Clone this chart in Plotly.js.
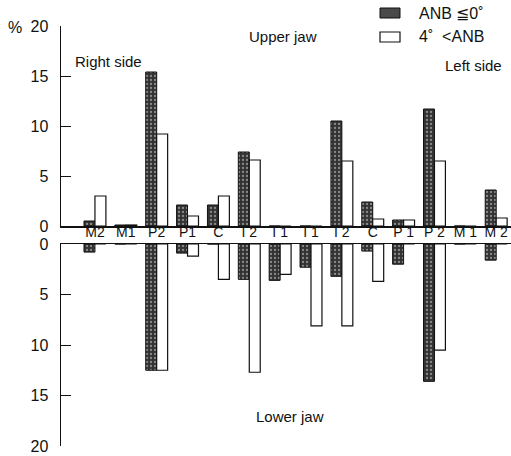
<!DOCTYPE html>
<html><head><meta charset="utf-8">
<script src="https://cdn.plot.ly/plotly-3.0.1.min.js"></script>
<style>html,body{margin:0;padding:0;background:#fff}</style>
</head><body><div id="chart" style="width:511px;height:456px"></div>
<script>
const categories = ['M2','M1','P2','P1','C','I 2','I 1','I 1','I 2','C','P 1','P 2','M 1','M 2'];
const seriesNames = ['ANB \u22660\u02da', '4\u02da  <ANB'];
const upperDark  = [0.5, 0.1, 15.4, 2.1, 2.1, 7.4, 0, 0, 10.5, 2.4, 0.6, 11.7, 0, 3.6];
const upperWhite = [3.0, 0.1, 9.2, 1.0, 3.0, 6.6, 0, 0, 6.5, 0.7, 0.6, 6.5, 0, 0.8];
const lowerDark  = [0.8, 0, 12.5, 0.9, 0, 3.5, 3.6, 2.3, 3.2, 0.7, 2.0, 13.6, 0, 1.6];
const lowerWhite = [0, 0, 12.5, 1.2, 3.5, 12.7, 3.0, 8.1, 8.1, 3.7, 0, 10.5, 0, 0];
const yTicks = [0, 5, 10, 15, 20];

const xs = categories.map((c, i) => i);
const darkMarker = {color: '#3a3a3a', line: {color: '#111', width: 1},
  pattern: {shape: '.', fgcolor: '#8a8a8a', bgcolor: '#333', size: 4, solidity: 0.25}};
const whiteMarker = {color: '#ffffff', line: {color: '#111', width: 1.2}};

const traces = [
  {type: 'bar', x: xs, y: upperDark, name: seriesNames[0], marker: darkMarker, xaxis: 'x', yaxis: 'y'},
  {type: 'bar', x: xs, y: upperWhite, name: seriesNames[1], marker: whiteMarker, xaxis: 'x', yaxis: 'y'},
  {type: 'bar', x: xs, y: lowerDark, name: seriesNames[0], marker: darkMarker, xaxis: 'x2', yaxis: 'y2'},
  {type: 'bar', x: xs, y: lowerWhite, name: seriesNames[1], marker: whiteMarker, xaxis: 'x2', yaxis: 'y2'}
];

const W = 511, H = 456, L = 61;
const px = v => (v - L) / (W - L);
const py = v => 1 - v / H;

const font = {family: 'Liberation Sans, Arial, sans-serif', color: '#111', size: 15};
const xr = [-1.10, 13.48];
const yAxisCommon = {
  tickvals: yTicks, ticktext: yTicks.map(v => v + '\u2002'), ticks: 'inside', ticklen: 10, tickcolor: '#111',
  showline: true, linecolor: '#111', linewidth: 1.5, showgrid: false, zeroline: false,
  tickfont: {size: 16}, fixedrange: true
};
function ann(text, x, y, xanchor, size) {
  return {text: text, xref: 'paper', yref: 'paper', x: px(x), y: py(y), xanchor: xanchor, yanchor: 'middle',
    showarrow: false, font: {size: size || 15}};
}
const layout = {
  width: W, height: H,
  margin: {l: L, r: 0, t: 0, b: 0},
  paper_bgcolor: '#fff', plot_bgcolor: 'rgba(0,0,0,0)',
  font: font,
  barmode: 'group', bargap: 0.29, bargroupgap: 0,
  showlegend: false,
  xaxis: {domain: [0, 1], range: xr, anchor: 'y', showticklabels: false, ticks: '',
    showline: true, linecolor: '#111', linewidth: 1.5, showgrid: false, zeroline: false},
  yaxis: Object.assign({domain: [py(226), py(26)], range: [0, 20], anchor: 'x'}, yAxisCommon),
  xaxis2: {domain: [0, 1], range: xr, anchor: 'y2', side: 'top', tickvals: xs, ticktext: categories, ticks: '',
    showline: true, linecolor: '#111', linewidth: 1.5, showgrid: false, zeroline: false,
    tickfont: {size: 14}},
  yaxis2: Object.assign({domain: [py(446), py(244)], range: [20, 0], anchor: 'x2'}, yAxisCommon),
  shapes: [
    {type: 'rect', xref: 'paper', yref: 'paper', x0: px(380), x1: px(400), y0: py(18), y1: py(8),
      fillcolor: '#4a4a4a', line: {color: '#111', width: 1}},
    {type: 'rect', xref: 'paper', yref: 'paper', x0: px(380), x1: px(400), y0: py(42), y1: py(32),
      fillcolor: '#ffffff', line: {color: '#111', width: 1.2}}
  ],
  annotations: [
    ann(seriesNames[0], 417, 14, 'left', 16),
    ann(seriesNames[1], 417, 37, 'left', 16),
    ann('%', 15, 27, 'center', 16),
    ann('Upper jaw', 283, 37, 'center', 15),
    ann('Right side', 73, 62, 'left', 15),
    ann('Left side', 504, 65, 'right', 15),
    ann('Lower jaw', 290, 416, 'center', 15)
  ]
};
Plotly.newPlot('chart', traces, layout, {displayModeBar: false, staticPlot: true});
</script></body></html>
